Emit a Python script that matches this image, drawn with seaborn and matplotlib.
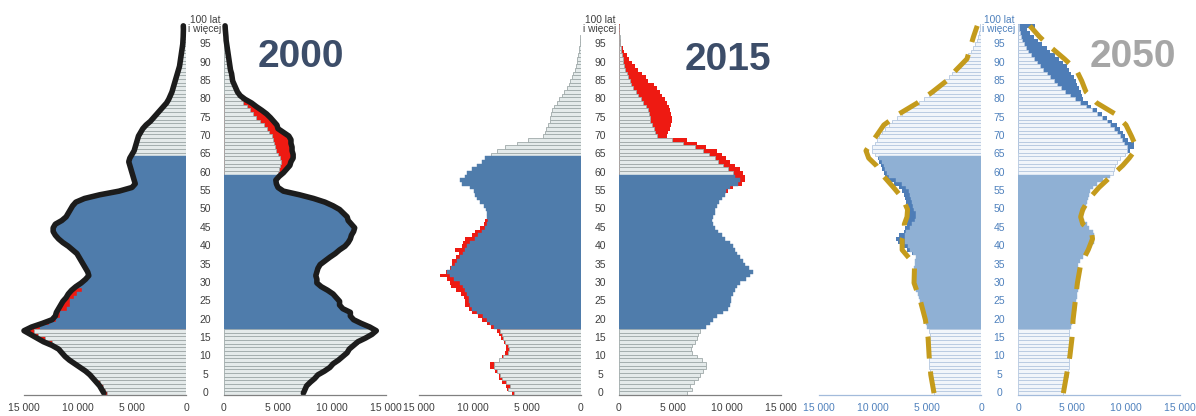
import numpy as np
import pandas as pd
import seaborn as sns
import matplotlib.pyplot as plt
from matplotlib import transforms

sns.set_style('white')
plt.rcParams['font.family'] = ['Liberation Sans', 'DejaVu Sans']

# wiek 0..100 (100 = "100 lat i wiecej"), wartosci w tys.
ages = list(range(101))

m2000 = [7.6, 7.8, 8.0, 8.3, 8.6, 8.9, 9.3, 9.8, 10.3, 10.8,
         11.2, 11.5, 11.8, 12.4, 13.2, 13.8, 14.4, 15.0, 14.3, 13.3,
         12.4, 12.1, 12.0, 11.8, 11.6, 11.4, 11.1, 10.9, 10.6, 10.2,
         9.7, 9.3, 9.0, 9.1, 9.3, 9.5, 9.7, 9.9, 10.1, 10.5,
         10.9, 11.4, 11.8, 12.1, 12.3, 12.3, 12.1, 11.5, 11.1, 10.9,
         10.7, 10.5, 10.2, 9.4, 8.0, 6.2, 5.0, 4.7, 4.8, 4.9,
         5.0, 5.1, 5.2, 5.3, 5.2, 5.0, 4.8, 4.7, 4.6, 4.5,
         4.4, 4.2, 4.0, 3.7, 3.3, 3.0, 2.7, 2.4, 2.1, 1.8,
         1.6, 1.45, 1.3, 1.2, 1.1, 1.0, 0.9, 0.8, 0.7, 0.6,
         0.55, 0.5, 0.45, 0.4, 0.35, 0.3, 0.28, 0.26, 0.25, 0.24,
         0.25]
f2000 = [7.35, 7.5, 7.65, 8.0, 8.4, 8.7, 9.3, 9.8, 10.1, 10.6,
         11.0, 11.4, 11.6, 12.0, 12.4, 13.1, 13.7, 14.1, 13.5, 12.7,
         12.0, 11.7, 11.7, 11.0, 10.7, 10.7, 10.4, 10.1, 9.6, 9.0,
         8.6, 8.6, 8.5, 8.6, 8.7, 8.9, 9.35, 9.8, 10.3, 10.7,
         11.2, 11.5, 11.7, 11.8, 12.0, 12.1, 11.8, 11.5, 11.4, 11.05,
         10.7, 10.1, 9.35, 8.3, 7.0, 5.5, 5.0, 4.85, 4.8, 5.1,
         5.5, 5.8, 6.1, 6.2, 6.4, 6.4, 6.3, 6.3, 6.2, 6.2,
         6.0, 5.5, 5.0, 4.9, 4.6, 4.3, 3.95, 3.5, 3.0, 2.55,
         1.95, 1.5, 1.25, 1.1, 0.95, 0.8, 0.75, 0.7, 0.6, 0.55,
         0.5, 0.45, 0.4, 0.35, 0.3, 0.25, 0.2, 0.18, 0.15, 0.12,
         0.1]

m2015 = [6.4, 6.85, 6.9, 7.3, 7.6, 7.6, 8.0, 8.45, 8.4, 7.6,
         7.3, 7.05, 6.95, 6.9, 7.1, 7.4, 7.6, 7.8, 8.3, 8.7,
         9.2, 9.5, 10.1, 10.4, 10.7, 10.75, 10.8, 11.1, 11.6, 12.0,
         12.1, 12.4, 13.1, 12.5, 12.1, 11.9, 11.9, 11.6, 11.3, 11.7,
         11.0, 10.9, 10.7, 10.1, 9.8, 9.35, 9.0, 8.9, 8.7, 8.7,
         8.8, 9.0, 9.35, 9.6, 9.8, 9.9, 10.3, 11.0, 11.2, 10.7,
         10.6, 10.1, 9.65, 9.2, 8.9, 8.3, 7.8, 7.0, 5.95, 4.9,
         3.5, 3.3, 3.2, 3.1, 2.9, 2.9, 2.8, 2.7, 2.5, 2.25,
         2.0, 1.8, 1.55, 1.3, 1.15, 1.0, 0.85, 0.7, 0.6, 0.5,
         0.4, 0.33, 0.27, 0.2, 0.15, 0.12, 0.09, 0.06, 0.04, 0.03,
         0.03]
f2015 = [6.25, 6.8, 6.6, 6.9, 7.35, 7.5, 7.75, 8.1, 8.1, 7.65,
         7.2, 6.8, 6.7, 6.8, 7.0, 7.2, 7.35, 7.5, 8.05, 8.4,
         8.7, 9.05, 9.65, 10.1, 10.3, 10.4, 10.4, 10.6, 10.7, 10.9,
         11.2, 11.8, 12.1, 12.4, 12.0, 11.7, 11.5, 11.2, 10.9, 10.75,
         10.6, 10.3, 9.8, 9.5, 9.2, 8.9, 8.7, 8.65, 8.7, 8.9,
         8.9, 9.05, 9.3, 9.5, 9.8, 10.1, 10.6, 11.35, 11.65, 11.65,
         11.5, 11.2, 10.75, 10.3, 9.95, 9.5, 9.05, 8.1, 7.2, 6.25,
         4.4, 4.55, 4.7, 4.8, 4.9, 4.9, 4.8, 4.7, 4.65, 4.4,
         4.25, 3.95, 3.8, 3.5, 3.2, 2.7, 2.5, 2.1, 1.8, 1.5,
         1.2, 0.95, 0.7, 0.5, 0.35, 0.2, 0.15, 0.1, 0.08, 0.06,
         0.05]

m2050 = [4.37, 4.43, 4.5, 4.6, 4.65, 4.7, 4.75, 4.77, 4.8, 4.8,
         4.8, 4.8, 4.8, 4.77, 4.74, 4.7, 4.74, 4.77, 5.0, 5.05,
         5.15, 5.25, 5.35, 5.45, 5.55, 5.65, 5.75, 5.85, 6.0, 6.05,
         6.15, 6.2, 6.2, 6.2, 6.2, 6.15, 6.1, 6.05, 6.4, 6.85,
         7.3, 7.7, 7.85, 7.6, 7.15, 7.0, 6.85, 6.9, 7.0, 7.0,
         6.85, 6.8, 6.9, 7.0, 7.15, 7.3, 7.6, 8.1, 8.65, 8.85,
         9.0, 9.2, 9.25, 9.4, 9.5, 9.8, 10.1, 10.1, 9.8, 9.6,
         9.4, 9.2, 8.85, 8.55, 8.25, 7.8, 7.3, 6.85, 6.3, 5.75,
         5.25, 4.85, 4.35, 4.0, 3.6, 3.3, 3.0, 2.65, 2.35, 2.05,
         1.75, 1.45, 1.2, 0.9, 0.7, 0.55, 0.4, 0.28, 0.2, 0.12,
         0.1]
f2050 = [4.2, 4.25, 4.35, 4.45, 4.5, 4.6, 4.65, 4.7, 4.75, 4.75,
         4.8, 4.8, 4.8, 4.77, 4.75, 4.75, 4.72, 4.7, 4.95, 5.0,
         5.1, 5.2, 5.25, 5.35, 5.35, 5.4, 5.5, 5.5, 5.6, 5.6,
         5.65, 5.65, 5.65, 5.65, 5.6, 5.6, 5.75, 6.0, 6.3, 6.55,
         6.8, 7.0, 7.05, 7.05, 6.9, 6.6, 6.35, 6.1, 6.0, 6.05,
         6.2, 6.3, 6.35, 6.45, 6.55, 6.65, 6.9, 7.3, 7.9, 8.5,
         8.75, 8.9, 9.0, 9.15, 9.45, 9.9, 10.4, 10.7, 10.7, 10.2,
         9.9, 9.75, 9.45, 9.15, 8.7, 8.2, 7.75, 7.3, 6.8, 6.5,
         6.05, 5.9, 5.8, 5.65, 5.5, 5.35, 5.2, 4.95, 4.75, 4.5,
         4.2, 3.8, 3.4, 3.0, 2.65, 2.25, 1.85, 1.45, 1.1, 0.8,
         1.55]

# przerywana linia (2050)
dash_ages = [0, 5, 10, 15, 20, 25, 30, 35, 39, 42, 44, 46, 48, 50, 53, 56,
             59, 62, 64, 66, 68, 70, 73, 76, 79, 82, 85, 88, 91, 94, 97, 100]
dash_m2050 = [4.35, 4.65, 4.8, 4.9, 5.15, 5.6, 6.2, 6.15, 7.3, 7.3, 7.05, 7.1,
              6.85, 6.8, 7.25, 8.1, 9.0, 9.7, 10.4, 10.65, 10.2, 9.7, 9.0,
              7.6, 5.9, 4.5, 3.2, 2.3, 1.3, 1.0, 0.7, 0.35]
dash_f2050 = [4.2, 4.5, 4.8, 5.0, 5.1, 5.3, 5.5, 5.8, 6.5, 6.9, 6.8, 6.0,
              5.8, 6.0, 6.6, 7.5, 8.6, 9.7, 10.3, 10.8, 10.8, 10.5, 10.0,
              9.0, 7.3, 6.3, 5.9, 5.4, 4.3, 3.1, 2.0, 1.1]

xticks = [0, 5000, 10000, 15000]
xtick_labels = ['0', '5 000', '10 000', '15 000']
age_ticks = list(range(0, 100, 5))

old = dict(work='#4f7cab', rest='#e4eaea', stripe='#9fa9a9', excess='#ee1a12',
           text='#3f3f3f', spine='#808080')
new = dict(work='#8fb0d4', rest='#f1f5fa', stripe='#b6c8e0', excess='#4e7db7',
           text='#4f81bd', spine='#a3bbdb')

fig = plt.figure(figsize=(11.96, 4.16), dpi=100)
W, H = 1196, 416


def add_ax(x0, w):
    return fig.add_axes([x0 / W, 21 / H, w / W, 371 / H])


def draw_half(ax, own, other, win, work_top, st, left):
    a = np.array(ages)
    own = np.array(own) * 1000
    other = np.array(other) * 1000
    in_win = (a >= win[0]) & (a <= win[1]) & (own > other)
    df = pd.DataFrame({'age': a,
                       'total': np.where(in_win, own, 0),
                       'base': np.where(in_win, other, own),
                       'work': (a >= 18) & (a <= work_top)})
    sns.barplot(data=df, x='total', y='age', orient='h', native_scale=True,
                width=1, color=st['excess'], saturation=1, errorbar=None,
                linewidth=0, ax=ax)
    sns.barplot(data=df[~df.work], x='base', y='age', orient='h',
                native_scale=True, width=1, color=st['rest'], saturation=1,
                errorbar=None, edgecolor=st['stripe'], linewidth=0.6, ax=ax)
    sns.barplot(data=df[df.work], x='base', y='age', orient='h',
                native_scale=True, width=1, color=st['work'], saturation=1,
                errorbar=None, edgecolor=st['work'], linewidth=0.3, ax=ax)
    ax.set_xlim((15000, 0) if left else (0, 15000))
    ax.set_ylim(-0.5, 100.5)
    ax.set_xlabel('')
    ax.set_ylabel('')
    ax.set_yticks([])
    ax.set_xticks(xticks)
    ax.set_xticklabels(xtick_labels)
    for s in ['top', 'left', 'right']:
        ax.spines[s].set_visible(False)
    ax.spines['bottom'].set_color(st['spine'])
    ax.spines['bottom'].set_linewidth(0.9)
    ax.tick_params(axis='x', direction='inout', length=4, width=0.8,
                   color=st['spine'], labelsize=7.5, labelcolor=st['text'], pad=4)
    ax.set_facecolor('none')


def age_labels(ax, color):
    tr = transforms.blended_transform_factory(ax.transAxes, ax.transData)
    for a in age_ticks:
        ax.text(-0.117, a, str(a), transform=tr, ha='center', va='center',
                fontsize=7.5, color=color)
    ax.text(-0.117, 100.3, '100 lat\ni więcej', transform=tr, ha='center',
            va='center', fontsize=7.3, color=color, linespacing=0.85)


panels = [
    ('2000', m2000, f2000, (0, 28), (60, 100), old, 24, 224, '#3c4d69', 67),
    ('2015', m2015, f2015, (0, 47), (55, 100), old, 419, 619, '#3c4d69', 70),
    ('2050', m2050, f2050, (38, 64), (66, 100), new, 819, 1018, '#a6a6a6', 67),
]

for year, m, f, wm, wf, st, xl, xr, tcol, base_y in panels:
    axl = add_ax(xl, 162)
    axr = add_ax(xr, 162)
    draw_half(axl, m, f, wm, 64, st, True)
    draw_half(axr, f, m, wf, 59, st, False)
    age_labels(axr, st['text'])
    if year == '2000':
        for ax, v in [(axl, m), (axr, f)]:
            sns.lineplot(x=np.array(v) * 1000, y=ages, sort=False,
                         estimator=None, color='#1c1c1c', linewidth=4.0,
                         solid_joinstyle='round', solid_capstyle='round',
                         clip_on=False, ax=ax)
    if year == '2050':
        for ax, v in [(axl, dash_m2050), (axr, dash_f2050)]:
            sns.lineplot(x=np.array(v) * 1000, y=dash_ages, sort=False,
                         estimator=None, color='#c49b1c', linewidth=3.6,
                         linestyle=(0, (4.4, 2.6)), dash_capstyle='butt',
                         clip_on=False, ax=ax)
    for ax in (axl, axr):
        ax.set_xlabel('')
        ax.set_ylabel('')
        ax.set_ylim(-0.5, 100.5)
    cx = {'2000': 301, '2015': 728, '2050': 1133}[year]
    fig.text(cx / W, 1 - base_y / H, year, ha='center', va='baseline',
             fontsize=28, fontweight='bold', color=tcol)

fig.savefig('out.png', dpi=100, facecolor='white')
